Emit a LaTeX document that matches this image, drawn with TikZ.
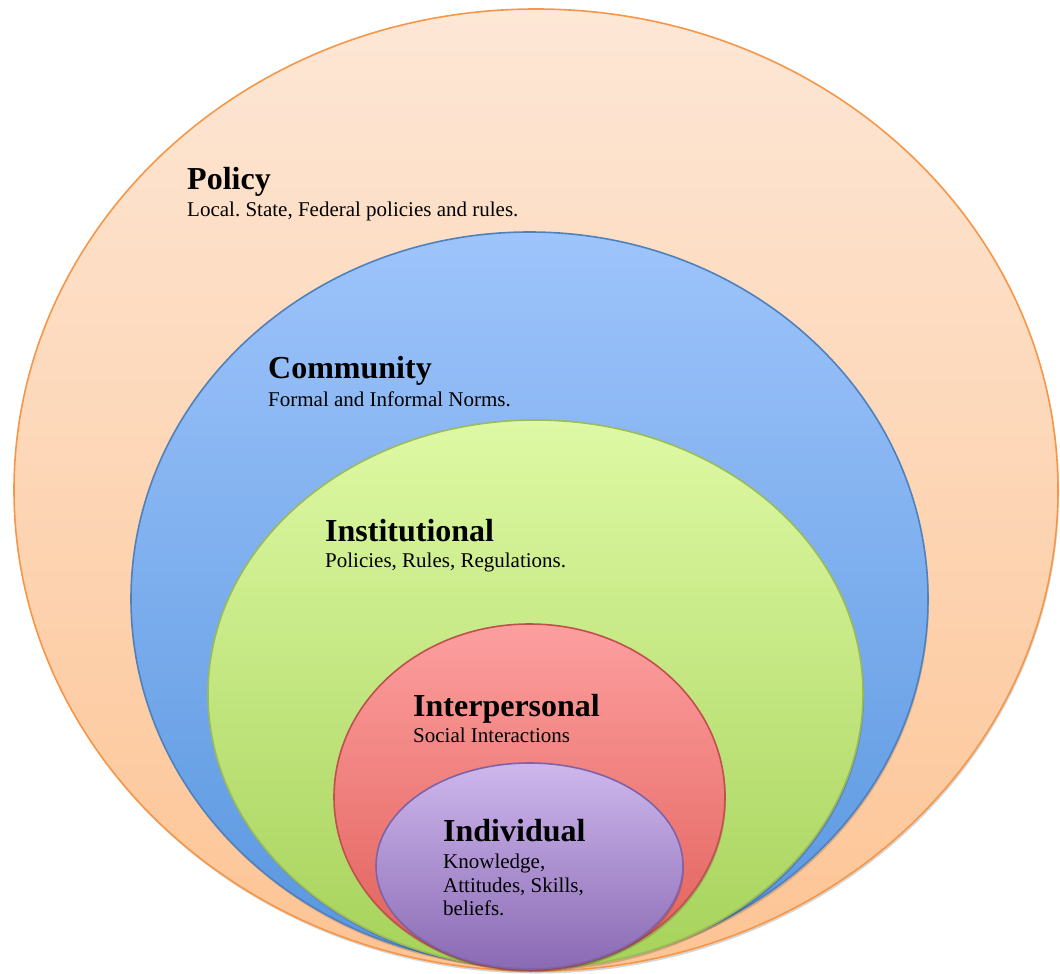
\documentclass[tikz,border=0pt]{standalone}
\usepackage{fontspec}
\setmainfont{Liberation Serif}
\usetikzlibrary{shapes.geometric}
\frenchspacing

% fills and outlines of the five levels
\definecolor{polTop}{HTML}{FDE7D6}
\definecolor{polBot}{HTML}{FDC494}
\definecolor{polLine}{HTML}{F79646}
\definecolor{comTop}{HTML}{9EC4FB}
\definecolor{comBot}{HTML}{5896DF}
\definecolor{comLine}{HTML}{4F81BD}
\definecolor{insTop}{HTML}{DEF9A4}
\definecolor{insBot}{HTML}{A6D25A}
\definecolor{insLine}{HTML}{9BBB59}
\definecolor{intTop}{HTML}{FD9F9F}
\definecolor{intBot}{HTML}{E05E58}
\definecolor{intLine}{HTML}{C0504D}
\definecolor{indTop}{HTML}{CDB7EC}
\definecolor{indBot}{HTML}{8A6AB4}
\definecolor{indLine}{HTML}{7F62A8}

\tikzset{
  level/.style={ellipse, inner sep=0pt, line width=1.6pt},
  levelshadow/.style={ellipse, inner sep=0pt, fill=black, opacity=0.16},
  title/.style={anchor=base west, inner sep=0pt, font=\fontsize{32}{36}\selectfont\bfseries},
  body/.style={anchor=base west, inner sep=0pt, font=\fontsize{21}{25}\selectfont\frenchspacing},
}

\begin{document}
\begin{tikzpicture}[x=1pt, y=-1pt]
\useasboundingbox (0,0) rectangle (1060,974);

% Policy
\node[levelshadow, minimum width=1044pt, minimum height=962pt] at (537,492.5) {};
\node[level, draw=polLine, top color=polTop, bottom color=polBot,
      minimum width=1044pt, minimum height=962pt] (policy) at (536,490) {};
% Community
\node[levelshadow, minimum width=797pt, minimum height=734pt] at (530.5,601.5) {};
\node[level, draw=comLine, top color=comTop, bottom color=comBot,
      minimum width=797pt, minimum height=734pt] (community) at (529.5,599) {};
% Institutional
\node[levelshadow, minimum width=655pt, minimum height=548pt] at (536.5,696.5) {};
\node[level, draw=insLine, top color=insTop, bottom color=insBot,
      minimum width=655pt, minimum height=548pt] (institutional) at (535.5,694) {};
% Interpersonal
\node[levelshadow, minimum width=391pt, minimum height=346pt] at (530.5,799.5) {};
\node[level, draw=intLine, top color=intTop, bottom color=intBot,
      minimum width=391pt, minimum height=346pt] (interpersonal) at (529.5,797) {};
% Individual
\node[levelshadow, minimum width=307pt, minimum height=206pt] at (530.5,868.5) {};
\node[level, draw=indLine, top color=indTop, bottom color=indBot,
      minimum width=307pt, minimum height=206pt] (individual) at (529.5,866) {};

% labels
\node[title] (policyT) at (187,189) {Policy};
\node[body] (policyB) at (187,216) {Local. State, Federal policies and rules.};
\node[title] (communityT) at (268,378) {Community};
\node[body] (communityB) at (268,406) {Formal and Informal Norms.};
\node[title] (institutionalT) at (325,541) {Institutional};
\node[body] (institutionalB) at (325,567) {Policies, Rules, Regulations.};
\node[title] (interpersonalT) at (413,716) {Interpersonal};
\node[body] (interpersonalB) at (413,742) {Social Interactions};
\node[title] (individualT) at (443,841) {Individual};
\node[body] (individualB1) at (443,868) {Knowledge,};
\node[body] (individualB2) at (443,892) {Attitudes, Skills,};
\node[body] (individualB3) at (443,915) {beliefs.};
\end{tikzpicture}
\end{document}
